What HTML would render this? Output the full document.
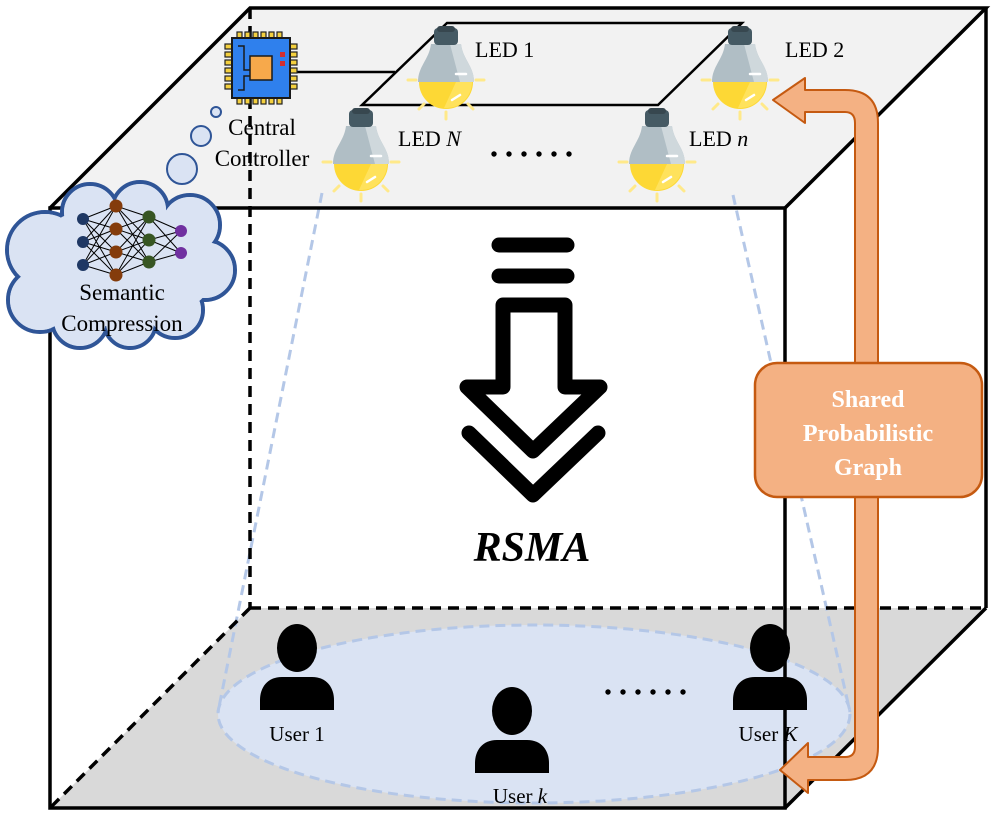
<!DOCTYPE html>
<html><head><meta charset="utf-8"><style>
html,body{margin:0;padding:0;background:#fff}
svg{display:block}
text{font-family:"Liberation Serif",serif}
</style></head><body>
<svg width="996" height="818" viewBox="0 0 996 818" xmlns="http://www.w3.org/2000/svg">
<defs>
<g id="bulb">
  <g stroke="#ffe98a" stroke-width="3" stroke-linecap="round">
    <line x1="-38" y1="0" x2="-30" y2="0"/><line x1="30" y1="0" x2="38" y2="0"/>
    <line x1="-22" y1="24" x2="-27" y2="29"/><line x1="22" y1="24" x2="27" y2="29"/>
    <line x1="0" y1="32" x2="0" y2="39"/>
  </g>
  <circle cx="0" cy="2" r="27" fill="#fdd835"/>
  <path d="M-2,28 A26,26 0 0 0 26,2 L10,2 Z" fill="#ffe566" opacity="0.8"/>
  <path d="M-28,2 C-28,-14 -17,-20 -15,-36 L15,-36 C17,-20 28,-14 28,2 Z" fill="#b0bec5"/>
  <path d="M4,-36 L15,-36 C17,-20 28,-14 28,2 L14,2 Z" fill="#cfd8dc"/>
  <rect x="-12" y="-52" width="24" height="17" rx="4" fill="#455a64"/>
  <rect x="-9" y="-54" width="18" height="6" rx="3" fill="#37474f"/>
  <line x1="10" y1="-6" x2="20" y2="-6" stroke="#fff" stroke-width="2.5" stroke-linecap="round"/>
  <path d="M6,20 L14,15" stroke="#fff" stroke-width="2.5" stroke-linecap="round"/>
</g>
<g id="user">
  <ellipse cx="0" cy="-2" rx="20" ry="24" fill="#000"/>
  <path d="M-37,60 L-37,50 C-37,38 -30,27 -15,27 L15,27 C30,27 37,38 37,50 L37,60 Z" fill="#000"/>
</g>
</defs>

<polygon points="250,608 986,608 785,808 50,808" fill="#d9d9d9"/>
<polygon points="250,8 986,8 785,208 50,208" fill="#f2f2f2"/>

<ellipse cx="534" cy="714" rx="316" ry="89" fill="#dae3f3" stroke="#b4c7e7" stroke-width="3" stroke-dasharray="10,6"/>

<g stroke="#b4c7e7" stroke-width="3" stroke-dasharray="10,6" fill="none">
<line x1="322" y1="193" x2="218" y2="712"/>
<line x1="733" y1="195" x2="850" y2="712"/>
</g>

<g stroke="#000" stroke-width="3.5" stroke-dasharray="11,7" fill="none">
<line x1="250" y1="8" x2="250" y2="608"/>
<line x1="250" y1="608" x2="986" y2="608"/>
<line x1="250" y1="608" x2="50" y2="808"/>
</g>

<g stroke="#000" stroke-width="3.5" fill="none" stroke-linejoin="miter">
<polyline points="50,208 250,8 986,8 785,208"/>
<rect x="50" y="208" width="735" height="600"/>
<line x1="986" y1="8" x2="986" y2="608"/>
<line x1="986" y1="608" x2="785" y2="808"/>
</g>

<polygon points="447,23 742,23 658,105 362,105" fill="none" stroke="#000" stroke-width="2.5"/>
<line x1="290" y1="72" x2="395" y2="72" stroke="#000" stroke-width="2.5"/>

<g>
  <g fill="#f4d03f" stroke="#222" stroke-width="1.2">
    <rect x="237" y="32" width="5" height="7"/><rect x="245" y="32" width="5" height="7"/><rect x="253" y="32" width="5" height="7"/><rect x="261" y="32" width="5" height="7"/><rect x="269" y="32" width="5" height="7"/><rect x="277" y="32" width="5" height="7"/>
    <rect x="237" y="97" width="5" height="7"/><rect x="245" y="97" width="5" height="7"/><rect x="253" y="97" width="5" height="7"/><rect x="261" y="97" width="5" height="7"/><rect x="269" y="97" width="5" height="7"/><rect x="277" y="97" width="5" height="7"/>
    <rect x="225" y="44" width="7" height="5"/><rect x="225" y="52" width="7" height="5"/><rect x="225" y="60" width="7" height="5"/><rect x="225" y="68" width="7" height="5"/><rect x="225" y="76" width="7" height="5"/><rect x="225" y="84" width="7" height="5"/>
    <rect x="290" y="44" width="7" height="5"/><rect x="290" y="52" width="7" height="5"/><rect x="290" y="60" width="7" height="5"/><rect x="290" y="68" width="7" height="5"/><rect x="290" y="76" width="7" height="5"/><rect x="290" y="84" width="7" height="5"/>
  </g>
  <rect x="232" y="38" width="58" height="60" fill="#2f80ed" stroke="#1a1a1a" stroke-width="2"/>
  <rect x="250" y="56" width="22" height="24" fill="#f7a94b" stroke="#1a1a1a" stroke-width="1.5"/>
  <rect x="280" y="52" width="5" height="5" fill="#d32f2f"/><rect x="280" y="61" width="5" height="5" fill="#d32f2f"/>
  <path d="M238,46 L244,46 L244,70 L250,70 M238,90 L244,90 L244,76 L250,76" stroke="#1a1a1a" stroke-width="1.5" fill="none"/>
</g>
<text x="262" y="135" font-size="23" text-anchor="middle">Central</text>
<text x="262" y="166" font-size="23" text-anchor="middle">Controller</text>

<g fill="#dae3f3" stroke="#2f5597" stroke-width="2">
<circle cx="216" cy="112" r="5"/><circle cx="201" cy="136" r="10"/><circle cx="182" cy="169" r="15"/>
</g>

<g stroke="#2f5597" stroke-width="4" fill="#dae3f3">
<circle cx="45" cy="250" r="38"/><circle cx="40" cy="300" r="32"/><circle cx="80" cy="320" r="28"/><circle cx="130" cy="322" r="26"/><circle cx="175" cy="310" r="28"/><circle cx="205" cy="270" r="30"/><circle cx="190" cy="225" r="30"/><circle cx="140" cy="210" r="28"/><circle cx="90" cy="212" r="28"/>
</g>
<g fill="#dae3f3">
<circle cx="45" cy="250" r="36"/><circle cx="40" cy="300" r="30"/><circle cx="80" cy="320" r="26"/><circle cx="130" cy="322" r="24"/><circle cx="175" cy="310" r="26"/><circle cx="205" cy="270" r="28"/><circle cx="190" cy="225" r="28"/><circle cx="140" cy="210" r="26"/><circle cx="90" cy="212" r="26"/>
<ellipse cx="122" cy="265" rx="95" ry="62"/>
</g>
<g stroke="#000" stroke-width="1">
<path d="M83,219 L116,206 M83,219 L116,229 M83,219 L116,252 M83,219 L116,275 M83,242 L116,206 M83,242 L116,229 M83,242 L116,252 M83,242 L116,275 M83,265 L116,206 M83,265 L116,229 M83,265 L116,252 M83,265 L116,275"/>
<path d="M116,206 L149,217 M116,206 L149,240 M116,206 L149,262 M116,229 L149,217 M116,229 L149,240 M116,229 L149,262 M116,252 L149,217 M116,252 L149,240 M116,252 L149,262 M116,275 L149,217 M116,275 L149,240 M116,275 L149,262"/>
<path d="M149,217 L181,231 M149,217 L181,253 M149,240 L181,231 M149,240 L181,253 M149,262 L181,231 M149,262 L181,253"/>
</g>
<g fill="#1f3864"><circle cx="83" cy="219" r="6"/><circle cx="83" cy="242" r="6"/><circle cx="83" cy="265" r="6"/></g>
<g fill="#843c0c"><circle cx="116" cy="206" r="6.5"/><circle cx="116" cy="229" r="6.5"/><circle cx="116" cy="252" r="6.5"/><circle cx="116" cy="275" r="6.5"/></g>
<g fill="#375623"><circle cx="149" cy="217" r="6.5"/><circle cx="149" cy="240" r="6.5"/><circle cx="149" cy="262" r="6.5"/></g>
<g fill="#7030a0"><circle cx="181" cy="231" r="6"/><circle cx="181" cy="253" r="6"/></g>
<text x="122" y="300" font-size="23" text-anchor="middle">Semantic</text>
<text x="122" y="331" font-size="23" text-anchor="middle">Compression</text>

<use href="#bulb" x="446" y="80"/>
<use href="#bulb" x="740" y="80"/>
<use href="#bulb" x="361" y="162"/>
<use href="#bulb" x="657" y="162"/>
<text x="475" y="57" font-size="22">LED 1</text>
<text x="785" y="57" font-size="22">LED 2</text>
<text x="398" y="146" font-size="22">LED <tspan font-style="italic">N</tspan></text>
<text x="689" y="146" font-size="22">LED <tspan font-style="italic">n</tspan></text>
<g fill="#000"><circle cx="494" cy="154" r="2.7"/><circle cx="509" cy="154" r="2.7"/><circle cx="524" cy="154" r="2.7"/><circle cx="539" cy="154" r="2.7"/><circle cx="554" cy="154" r="2.7"/><circle cx="569" cy="154" r="2.7"/></g>

<g stroke="#000" stroke-width="15" stroke-linecap="round" stroke-linejoin="round" fill="none">
<line x1="499" y1="245" x2="567" y2="245"/>
<line x1="499" y1="276" x2="567" y2="276"/>
<path d="M503,305 L565,305 L565,387 L600,387 L533,451 L467,387 L503,387 Z"/>
<path d="M469,433 L533,495 L598,433"/>
</g>
<text x="532" y="561" font-size="42" font-weight="bold" font-style="italic" text-anchor="middle">RSMA</text>

<use href="#user" x="297" y="650"/>
<use href="#user" x="512" y="713"/>
<use href="#user" x="770" y="650"/>
<text x="297" y="741" font-size="21" text-anchor="middle">User 1</text>
<text x="520" y="803" font-size="21" text-anchor="middle">User <tspan font-style="italic">k</tspan></text>
<text x="768" y="741" font-size="21" text-anchor="middle">User <tspan font-style="italic">K</tspan></text>
<g fill="#000"><circle cx="608" cy="692" r="2.7"/><circle cx="623" cy="692" r="2.7"/><circle cx="638" cy="692" r="2.7"/><circle cx="653" cy="692" r="2.7"/><circle cx="668" cy="692" r="2.7"/><circle cx="683" cy="692" r="2.7"/></g>

<path d="M773,100 L805,78 L805,90 L845,90 Q878,90 878,123 L878,747 Q878,780 845,780 L808,780 L808,793 L780,770 L808,743 L808,757 L845,757 Q855,757 855,747 L855,123 Q855,112 845,112 L805,112 L805,123 Z" fill="#f4b183" stroke="#c55a11" stroke-width="2" stroke-linejoin="round"/>
<rect x="755" y="363" width="227" height="134" rx="22" fill="#f4b183" stroke="#c55a11" stroke-width="2.5"/>
<g fill="#fff" font-weight="bold" font-size="24" text-anchor="middle">
<text x="868" y="407">Shared</text>
<text x="868" y="441">Probabilistic</text>
<text x="868" y="475">Graph</text>
</g>
</svg>
</body></html>
